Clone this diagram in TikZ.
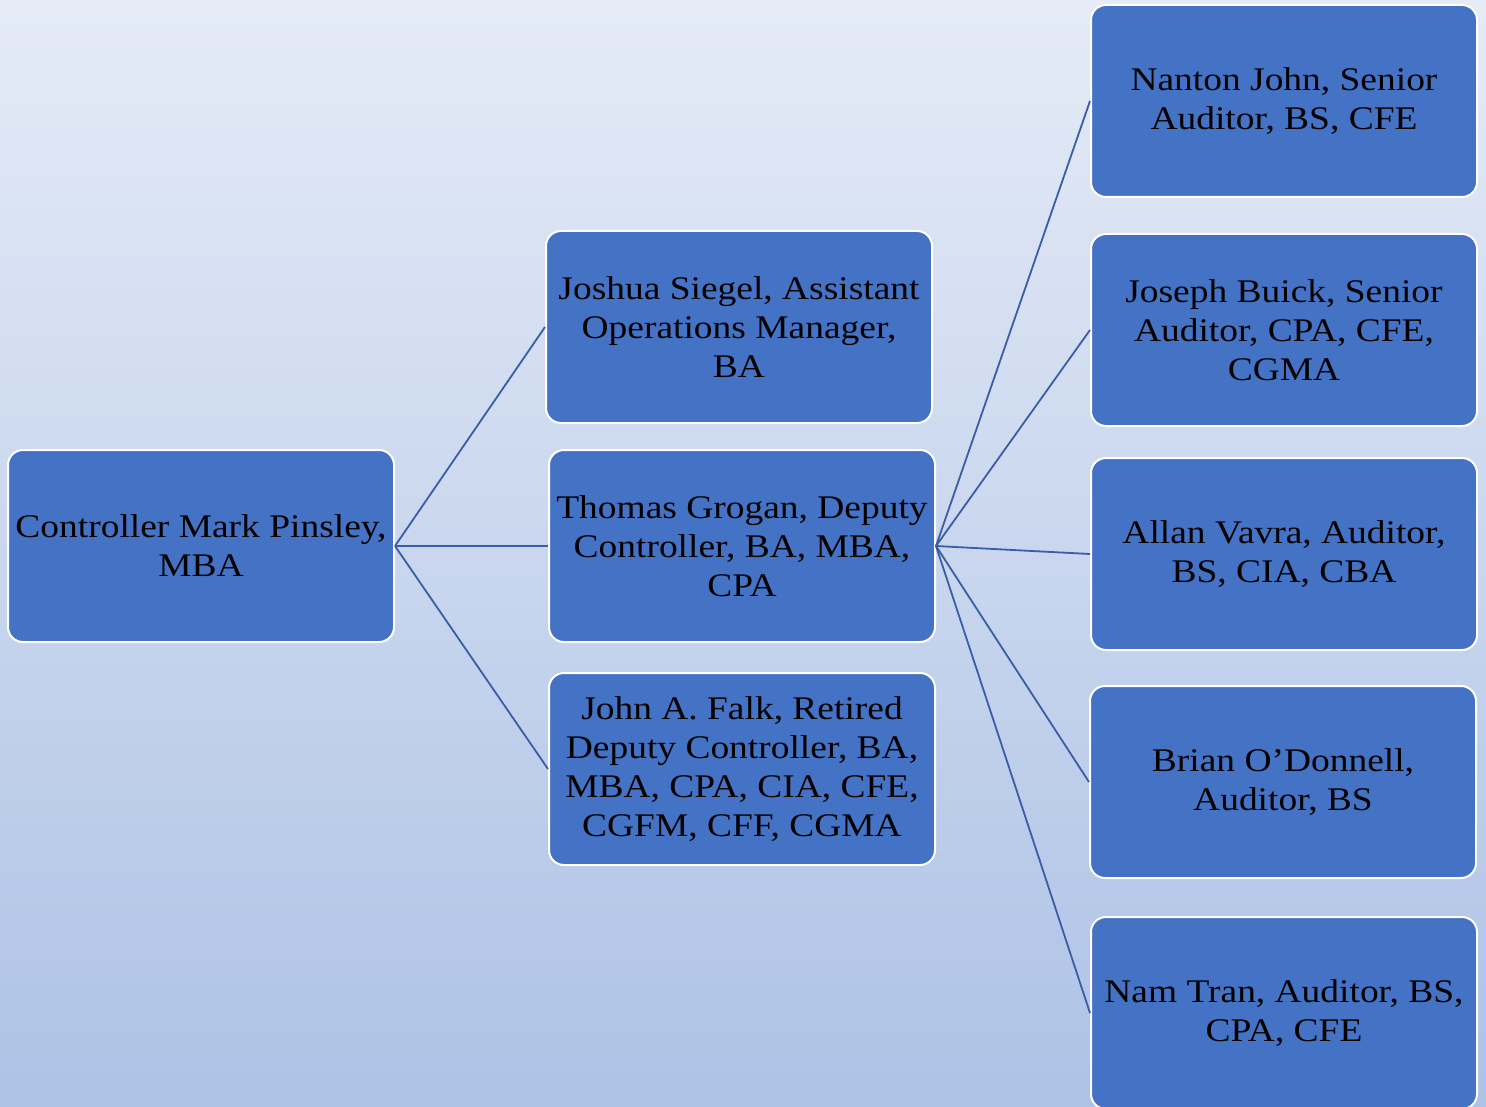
\documentclass[tikz,border=0pt]{standalone}
\usepackage{fontspec}
\setmainfont[FakeStretch=1.135]{Liberation Serif}
\definecolor{boxfill}{HTML}{4472C4}
\definecolor{linkcol}{HTML}{3A5DA8}
\definecolor{bgtop}{HTML}{E5EBF7}
\definecolor{bgbot}{HTML}{ADC2E5}
\begin{document}
\begin{tikzpicture}[x=1pt,y=-1pt,
  orgbox/.style={draw=white,line width=2pt,fill=boxfill,rounded corners=15pt,
    minimum width=386pt,minimum height=192pt,inner sep=0pt,align=center,
    font=\fontsize{33}{39}\selectfont,text=black},
  link/.style={draw=linkcol,line width=1.8pt}]
\useasboundingbox (0,0) rectangle (1486,1107);
\clip (0,0) rectangle (1486,1107);
\shade[top color=bgtop,bottom color=bgbot] (0,0) rectangle (1486,1107);
\node[orgbox] (root) at (201,546) {Controller Mark Pinsley,\\MBA};
\node[orgbox] (js) at (739,327) {Joshua Siegel, Assistant\\Operations Manager,\\BA};
\node[orgbox] (tg) at (742,546) {Thomas Grogan, Deputy\\Controller, BA, MBA,\\CPA};
\node[orgbox] (jf) at (742,769) {John A. Falk, Retired\\Deputy Controller, BA,\\MBA, CPA, CIA, CFE,\\CGFM, CFF, CGMA};
\node[orgbox] (nj) at (1284,101) {Nanton John, Senior\\Auditor, BS, CFE};
\node[orgbox] (jb) at (1284,330) {Joseph Buick, Senior\\Auditor, CPA, CFE,\\CGMA};
\node[orgbox] (av) at (1284,554) {Allan Vavra, Auditor,\\BS, CIA, CBA};
\node[orgbox] (bo) at (1283,782) {Brian O’Donnell,\\Auditor, BS};
\node[orgbox] (nt) at (1284,1013) {Nam Tran, Auditor, BS,\\CPA, CFE};
\draw[link] (root.east) -- (js.west);
\draw[link] (root.east) -- (tg.west);
\draw[link] (root.east) -- (jf.west);
\draw[link] (tg.east) -- (nj.west);
\draw[link] (tg.east) -- (jb.west);
\draw[link] (tg.east) -- (av.west);
\draw[link] (tg.east) -- (bo.west);
\draw[link] (tg.east) -- (nt.west);
\end{tikzpicture}
\end{document}
